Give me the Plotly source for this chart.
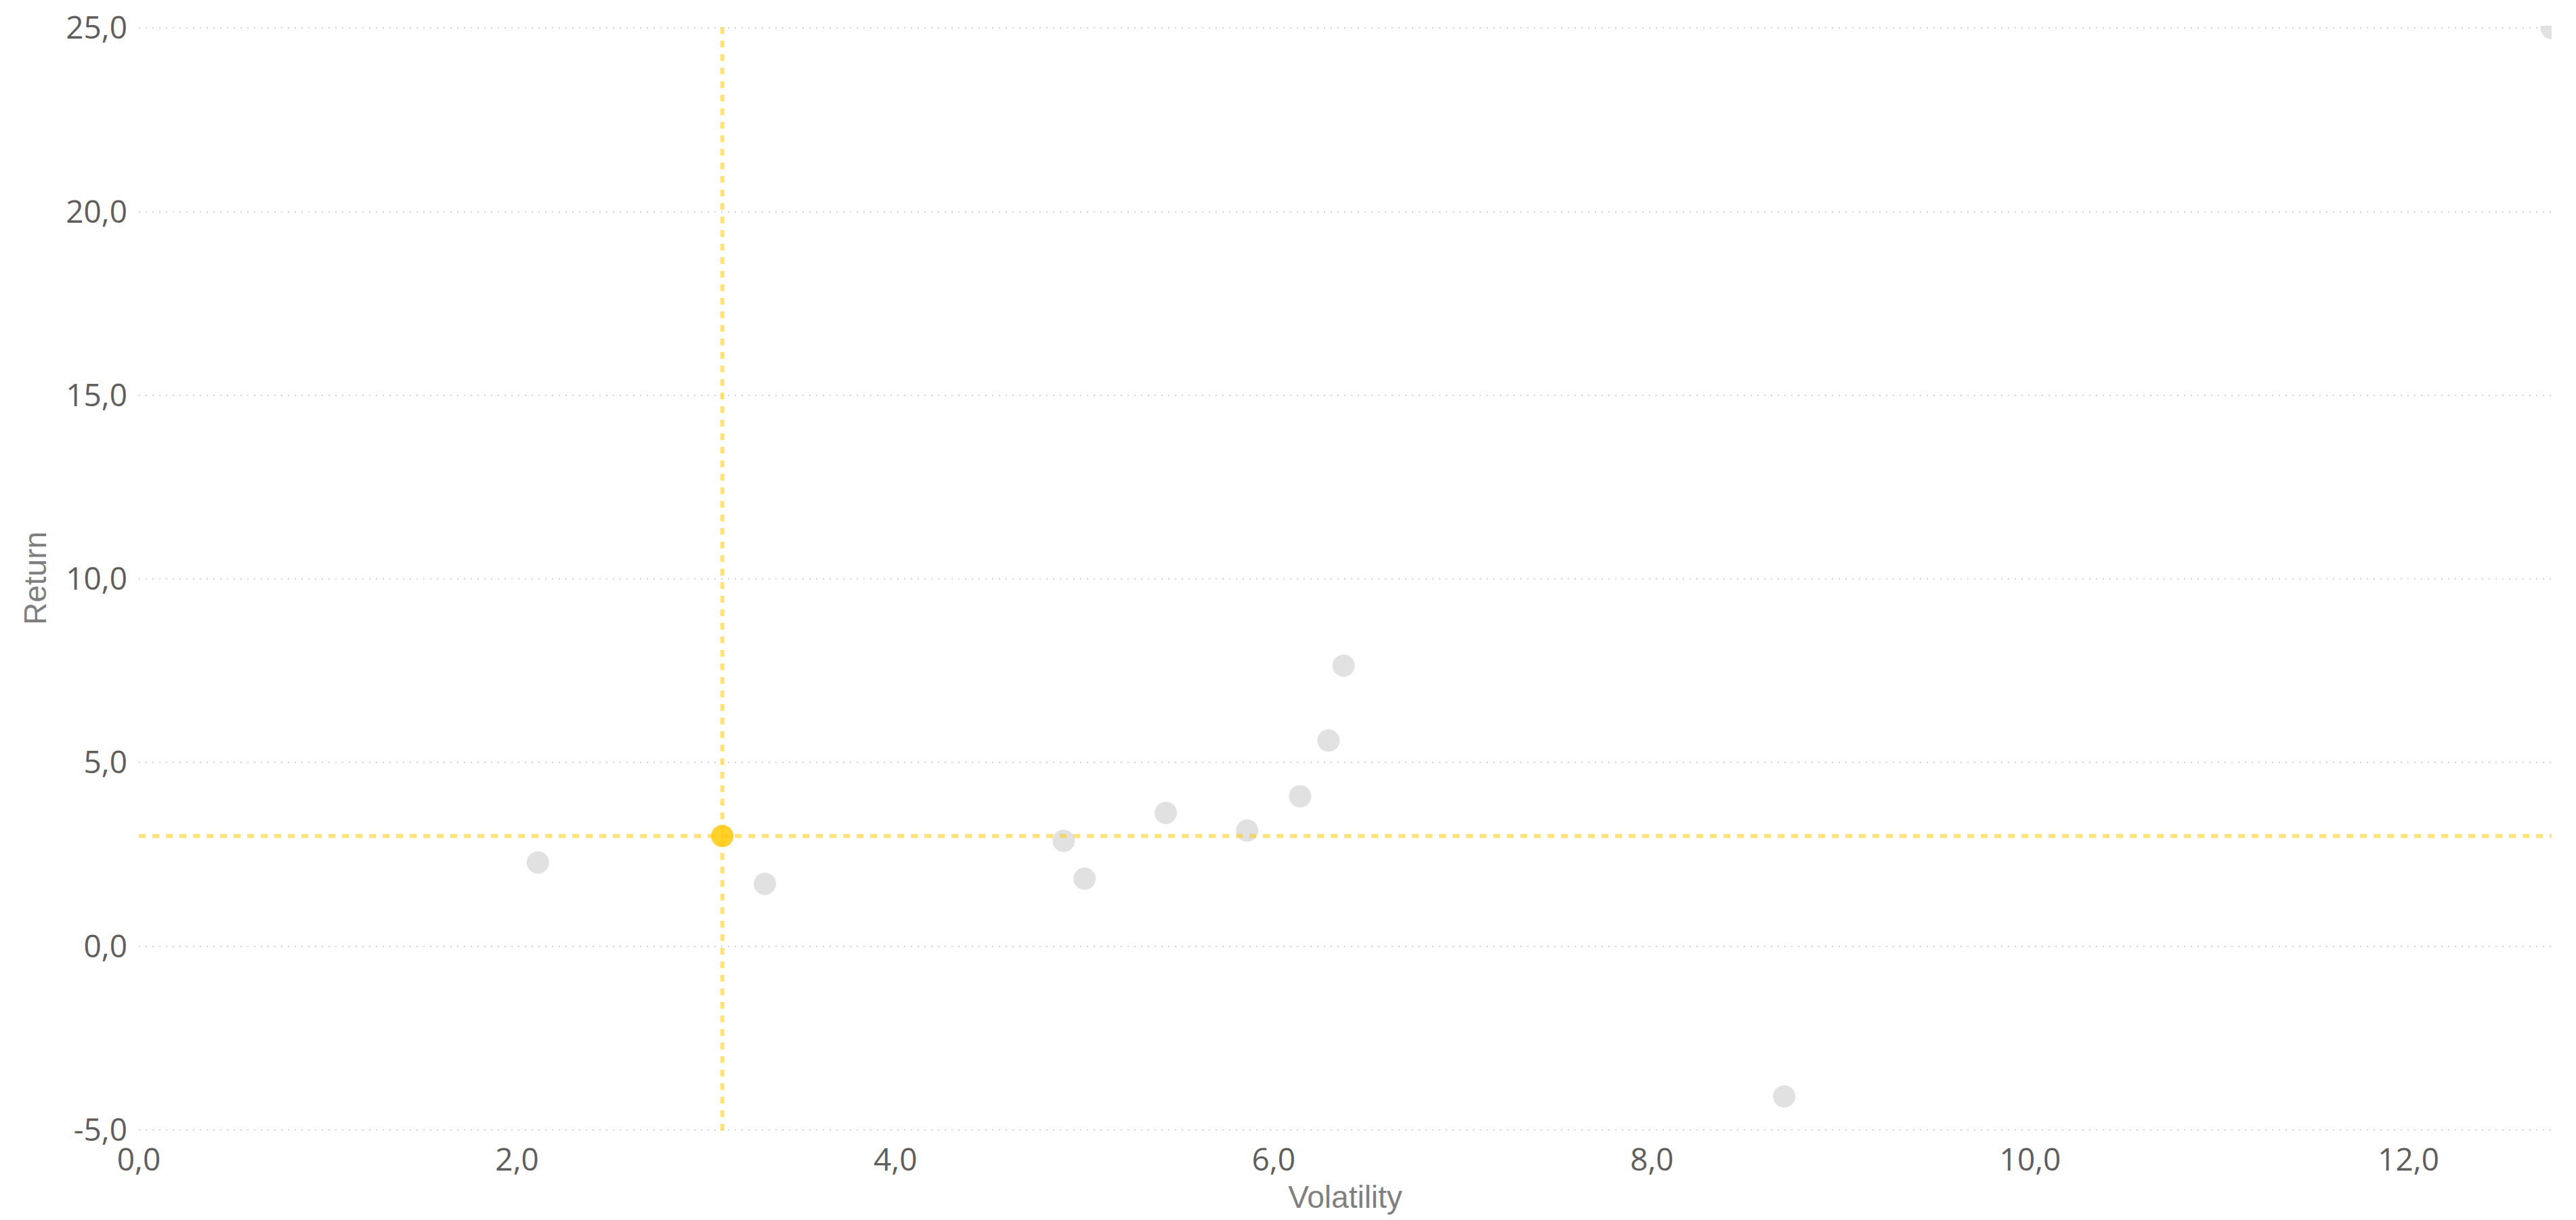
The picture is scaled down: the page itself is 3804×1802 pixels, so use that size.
import plotly.graph_objects as go

# ---- data ----
volatility = [2.11, 3.31, 4.89, 5.00, 5.43, 5.86, 6.14, 6.29, 6.37, 8.70, 12.757]
returns = [2.28, 1.70, 2.87, 1.84, 3.63, 3.15, 4.08, 5.60, 7.64, -4.09, 25.0]

bench_volatility = [3.085]
bench_return = [3.00]

x_tickvals = [0, 2, 4, 6, 8, 10, 12]
x_ticktext = ["0,0", "2,0", "4,0", "6,0", "8,0", "10,0", "12,0"]
y_tickvals = [-5, 0, 5, 10, 15, 20, 25]
y_ticktext = ["-5,0", "0,0", "5,0", "10,0", "15,0", "20,0", "25,0"]

TICK_FONT = dict(family="Open Sans, Roboto, sans-serif", size=46, color="#605E5C")
TITLE_FONT = dict(family="Liberation Sans, Arial, sans-serif", size=46, color="#7F7F7F")

fig = go.Figure()

fig.add_trace(go.Scatter(
    x=volatility, y=returns, mode="markers",
    marker=dict(size=33, color="#E1E1E1", line=dict(width=0)),
    showlegend=False, hoverinfo="x+y",
))
fig.add_trace(go.Scatter(
    x=bench_volatility, y=bench_return, mode="markers",
    marker=dict(size=33, color="#FFD12E", line=dict(width=0)),
    showlegend=False, hoverinfo="x+y",
))

line_style = dict(color="rgba(255,200,0,0.52)", width=6, dash="10px,10px")
fig.add_shape(type="line", xref="x", yref="paper",
              x0=bench_volatility[0], x1=bench_volatility[0], y0=0, y1=1,
              line=line_style, layer="above")
fig.add_shape(type="line", xref="paper", yref="y",
              x0=0, x1=1, y0=bench_return[0], y1=bench_return[0],
              line=line_style, layer="above")

fig.update_layout(
    width=3788, height=1786,
    margin=dict(l=197, r=28, t=30, b=124),
    paper_bgcolor="white", plot_bgcolor="white",
    separators=",.",
    xaxis=dict(
        range=[0, max(volatility)],
        tickvals=x_tickvals, ticktext=x_ticktext,
        showgrid=False, zeroline=False, showline=False,
        ticks="", tickfont=TICK_FONT, ticklabelstandoff=12,
        title=dict(text="Volatility", font=TITLE_FONT, standoff=23),
        automargin=False,
    ),
    yaxis=dict(
        range=[y_tickvals[0] - 0.02, y_tickvals[-1] + 0.06],
        tickvals=y_tickvals, ticktext=y_ticktext,
        showgrid=True, gridcolor="#D2D2D2", gridwidth=2, griddash="2px,8px",
        zeroline=False, showline=False,
        ticks="", tickfont=TICK_FONT, ticklabelstandoff=16,
        title=dict(text="Return", font=TITLE_FONT, standoff=14),
        automargin=False,
    ),
)

fig.write_html("out.html")
